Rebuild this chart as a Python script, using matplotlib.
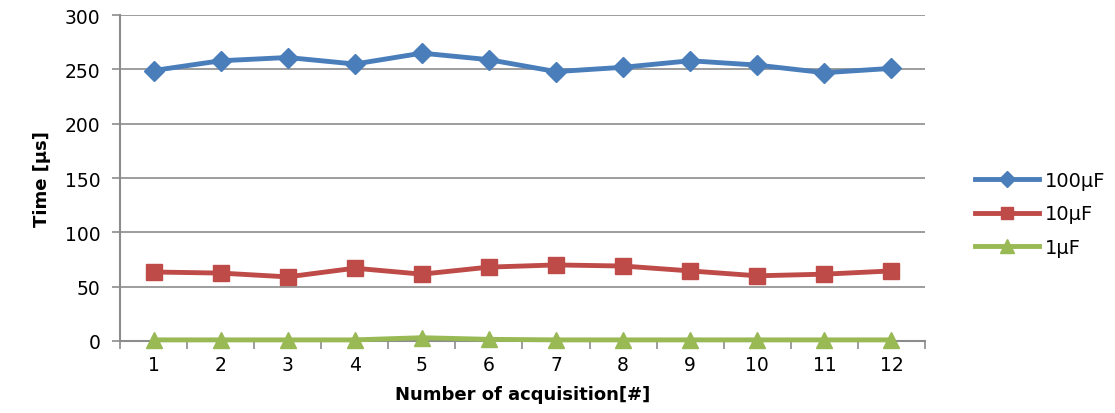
import numpy as np
import matplotlib
matplotlib.use("Agg")
import matplotlib.pyplot as plt

# acquisition index and measured times (us)
acquisitions = list(range(1, 13))
t_100uF = [249, 258, 261, 255, 265, 259, 248, 252, 258, 254, 247, 251]
t_10uF = [63.5, 62.5, 59, 67, 61.5, 68, 70, 69, 64.5, 60, 61.5, 64.5]
t_1uF = [1, 1, 1, 1, 3, 1.5, 1, 1, 1, 1, 1, 1]

plt.rcParams['font.family'] = ['DejaVu Sans']

fig = plt.figure(figsize=(11.15, 4.14), dpi=100)
ax = fig.add_axes([0.1076, 0.174, 0.722, 0.787])

ax.plot(acquisitions, t_100uF, color='#4a7ebb', lw=3.5, marker='D', ms=10, label='100µF', zorder=3, clip_on=False)
ax.plot(acquisitions, t_10uF, color='#be4b48', lw=3.5, marker='s', ms=11, label='10µF', zorder=3, clip_on=False)
ax.plot(acquisitions, t_1uF, color='#98b954', lw=3.5, marker='^', ms=12, label='1µF', zorder=3, clip_on=False)

ax.set_xlim(0.5, 12.5)
ax.set_ylim(0, 300)
ax.set_yticks(np.arange(0, 301, 50))
ax.set_xticks(acquisitions)
ax.set_xticks(np.arange(0.5, 12.6, 1), minor=True)
ax.tick_params(axis='x', which='major', length=0, pad=10, labelsize=13.5)
ax.tick_params(axis='x', which='minor', length=6, color='#8c8c8c', width=1.2)
ax.tick_params(axis='y', length=6, color='#8c8c8c', width=1.2, labelsize=13.5, pad=8)

ax.yaxis.grid(True, color='#8c8c8c', lw=1.2)
ax.set_axisbelow(True)
for s in ['top', 'right']:
    ax.spines[s].set_visible(False)
for s in ['left', 'bottom']:
    ax.spines[s].set_color('#8c8c8c')
    ax.spines[s].set_linewidth(1.5)

ax.set_xlabel('Number of acquisition[#]', fontsize=13, fontweight='bold', labelpad=8)
ax.set_ylabel('Time [µs]', fontsize=13, fontweight='bold', labelpad=10)

ax.legend(loc='center left', bbox_to_anchor=(1.04, 0.39), frameon=False, fontsize=14,
          handlelength=3.3, labelspacing=0.75, handletextpad=0.3, markerscale=0.8)

fig.savefig('out.png', dpi=100)
